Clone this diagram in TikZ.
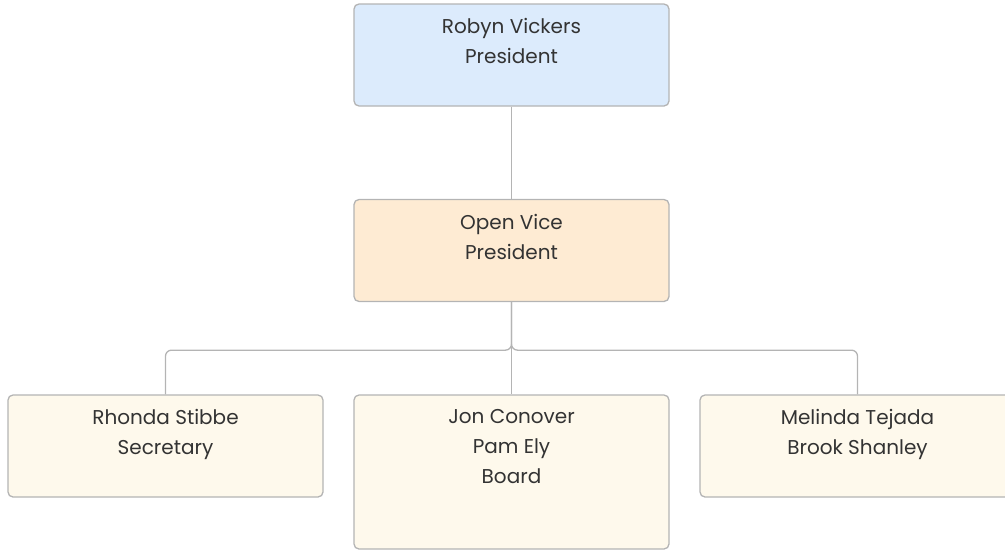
\documentclass[tikz,border=0pt]{standalone}
\usepackage{fontspec}
\setmainfont{Poppins}
\usetikzlibrary{calc, positioning}

\begin{document}
\begin{tikzpicture}[x=1pt, y=-1pt]
    % Define box size
    \def\boxWidth{315}
    \def\boxHeight{102}

    \definecolor{borderColour}{HTML}{B4B4B4}
    \definecolor{textColour}{HTML}{333333}
    \definecolor{presColour}{HTML}{DCEBFC}
    \definecolor{viceColour}{HTML}{FEEBD3}
    \definecolor{boardColour}{HTML}{FEF9EC}

    \tikzset{
        box/.style={draw=borderColour, line width=1.3pt, rounded corners=5pt,
            minimum width=\boxWidth pt, minimum height=\boxHeight pt, inner sep=0pt},
        boxText/.style={anchor=north, align=center, text=textColour, font=\fontsize{20}{30}\selectfont,
            inner sep=0pt, yshift=-15pt},
        link/.style={draw=borderColour, line width=1.3pt, rounded corners=6pt}
    }

    % Fix the page size
    \useasboundingbox (0,0) rectangle (1005,552);

    % Draw the boxes
    \node[box, fill=presColour] (pres) at (511.5,55) {};
    \node[box, fill=viceColour] (vice) at (511.5,250.5) {};
    \node[box, fill=boardColour] (secr) at (165.5,446) {};
    \node[box, fill=boardColour, minimum height=154pt] (board) at (511.5,472) {};
    \node[box, fill=boardColour] (tejada) at (857.5,446) {};

    % Texts in the boxes
    \node[boxText] (presText) at (pres.north) {Robyn Vickers\\President};
    \node[boxText] (viceText) at (vice.north) {Open Vice\\President};
    \node[boxText] (secrText) at (secr.north) {Rhonda Stibbe\\Secretary};
    \node[boxText] (boardText) at (board.north) {Jon Conover\\Pam Ely\\Board};
    \node[boxText] (tejadaText) at (tejada.north) {Melinda Tejada\\Brook Shanley};

    % Draw the links
    \coordinate (fork) at ($(vice.south)+(0,48)$);
    \draw[link] (pres.south) -- (vice.north);
    \draw[link] (vice.south) -- (board.north);
    \draw[link] (vice.south) |- (secr.north |- fork) -- (secr.north);
    \draw[link] (vice.south) |- (tejada.north |- fork) -- (tejada.north);

\end{tikzpicture}
\end{document}
